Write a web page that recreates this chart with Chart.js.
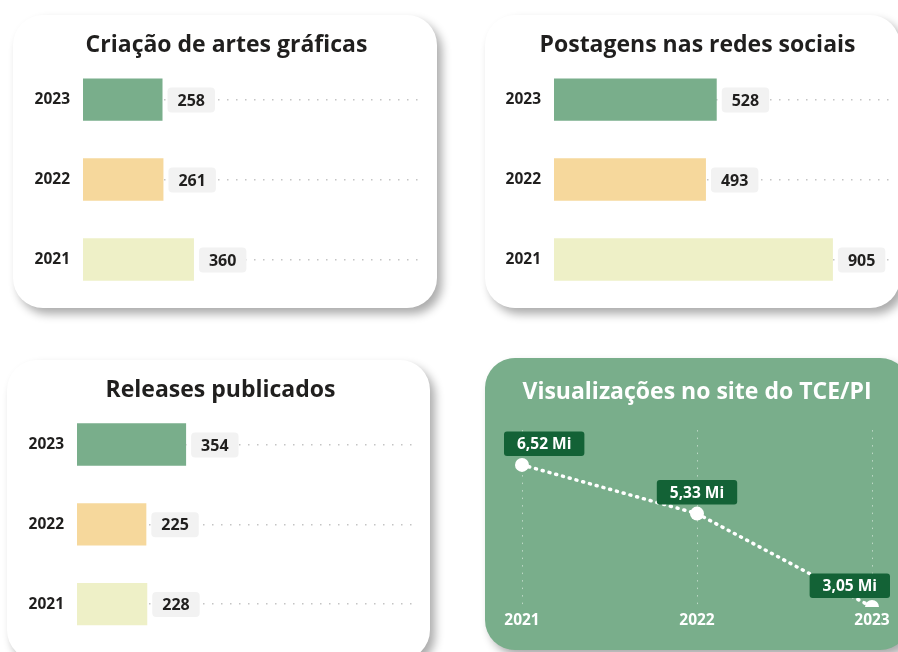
<!DOCTYPE html>
<html>
<head>
<meta charset="utf-8">
<script src="https://cdn.jsdelivr.net/npm/chart.js@4.4.1/dist/chart.umd.min.js"></script>
<style>
	html, body { margin: 0; padding: 0; width: 898px; height: 652px; overflow: hidden; background: #fff; }
	.card { position: absolute; border-radius: 30px; background: #fff; box-shadow: 5px 6px 10px rgba(0,0,0,0.33); overflow: hidden; }
	.card canvas { display: block; }
	#card1 { left: 13px; top: 15px; width: 424px; height: 293px; }
	#card2 { left: 485px; top: 15px; width: 415px; height: 293px; }
	#card3 { left: 7px; top: 360px; width: 423px; height: 300px; }
	#card4 { left: 485px; top: 358px; width: 425px; height: 292px; background: #79ae8b; }
</style>
</head>
<body>
<div class="card" id="card1"><canvas id="artesChart"></canvas></div>
<div class="card" id="card2"><canvas id="postagensChart"></canvas></div>
<div class="card" id="card3"><canvas id="releasesChart"></canvas></div>
<div class="card" id="card4"><canvas id="visualizacoesChart"></canvas></div>
<script>
// dados
var anosBarras = ['2023', '2022', '2021'];
var artesGraficas = [258, 261, 360];
var postagensRedes = [528, 493, 905];
var releasesPublicados = [354, 225, 228];

var anosLinha = ['2021', '2022', '2023'];
var visualizacoesMi = [6.52, 5.33, 3.05];

var FONT = '"Open Sans", "Noto Sans", sans-serif';
var TEXTO = '#201f1e';
var coresBarras = ['#79ae8b', '#f6d89c', '#eef0c7'];

// caixinha cinza com o valor ao lado de cada barra
var rotuloBarra = {
	id: 'rotuloBarra',
	afterDatasetsDraw: function(chart) {
		var ctx = chart.ctx;
		var valores = chart.data.datasets[0].data;
		ctx.save();
		ctx.font = 'bold 16px ' + FONT;
		ctx.textAlign = 'center';
		ctx.textBaseline = 'middle';
		chart.getDatasetMeta(0).data.forEach(function(bar, i) {
			var txt = String(valores[i]);
			var w = ctx.measureText(txt).width + 20;
			var x = bar.x + 5;
			ctx.fillStyle = '#f2f2f2';
			ctx.beginPath();
			ctx.roundRect(x, bar.y - 12, w, 25, 4);
			ctx.fill();
			ctx.fillStyle = TEXTO;
			ctx.fillText(txt, x + w / 2, bar.y + 1.5);
		});
		ctx.restore();
	}
};

function graficoBarras(id, titulo, valores, pad) {
	var context = document.getElementById(id).getContext('2d');
	return new Chart(context, {
		type: 'bar',
		data: {
			labels: anosBarras,
			datasets: [{
				data: valores,
				backgroundColor: coresBarras,
				barPercentage: 0.53,
				categoryPercentage: 1
			}]
		},
		options: {
			indexAxis: 'y',
			responsive: true,
			maintainAspectRatio: false,
			animation: false,
			layout: { padding: pad },
			plugins: {
				legend: { display: false },
				tooltip: { enabled: false },
				title: {
					display: true,
					text: titulo,
					color: TEXTO,
					font: { family: FONT, size: 23, weight: 'bold' },
					padding: { top: 0, bottom: 0 }
				}
			},
			scales: {
				x: { display: false, min: 0, max: 1087 },
				y: {
					grid: { offset: false, drawTicks: false, color: '#c4c4c4', lineWidth: 1.5 },
					border: { display: false, dash: [1.5, 7.5] },
					ticks: { color: TEXTO, padding: 13, font: { family: FONT, size: 15.5, weight: 'bold' } },
					afterFit: function(s) { s.width = 48; s.paddingTop = 0; s.paddingBottom = 0; }
				}
			}
		},
		plugins: [rotuloBarra]
	});
}

graficoBarras('artesChart', 'Criação de artes gráficas', artesGraficas, { left: 22, right: 19, top: 17, bottom: 8.5 });
graficoBarras('postagensChart', 'Postagens nas redes sociais', postagensRedes, { left: 21, right: 11, top: 17, bottom: 8.5 });
graficoBarras('releasesChart', 'Releases publicados', releasesPublicados, { left: 22, right: 18, top: 17, bottom: 16 });

// rótulo verde escuro acima de cada ponto
var rotuloPonto = {
	id: 'rotuloPonto',
	afterDatasetsDraw: function(chart) {
		var ctx = chart.ctx;
		ctx.save();
		ctx.font = 'bold 15.5px ' + FONT;
		ctx.textAlign = 'center';
		ctx.textBaseline = 'middle';
		chart.getDatasetMeta(0).data.forEach(function(pt, i) {
			var txt = visualizacoesMi[i].toFixed(2).replace('.', ',') + ' Mi';
			var w = ctx.measureText(txt).width + 26;
			var h = 24.5;
			var x = pt.x - w / 2;
			x = Math.max(19, Math.min(x, chart.width - 20 - w));
			var y = pt.y - 9 - h;
			ctx.fillStyle = '#136236';
			ctx.beginPath();
			ctx.roundRect(x, y, w, h, 3);
			ctx.fill();
			ctx.fillStyle = '#ffffff';
			ctx.fillText(txt, x + w / 2, y + h / 2 + 1);
		});
		ctx.restore();
	}
};

var ctxLinha = document.getElementById('visualizacoesChart').getContext('2d');
var linha = new Chart(ctxLinha, {
	type: 'line',
	data: {
		labels: anosLinha,
		datasets: [{
			data: visualizacoesMi,
			borderColor: '#ffffff',
			borderWidth: 3.5,
			borderDash: [1, 6],
			borderCapStyle: 'round',
			tension: 0,
			pointRadius: 7,
			pointBorderWidth: 0,
			pointBackgroundColor: '#ffffff',
			clip: { left: false, top: false, right: false, bottom: 0 }
		}]
	},
	options: {
		responsive: true,
		maintainAspectRatio: false,
		animation: false,
		layout: { padding: { left: 37, right: 38, top: 21, bottom: 16.5 } },
		plugins: {
			legend: { display: false },
			tooltip: { enabled: false },
			title: {
				display: true,
				text: 'Visualizações no site do TCE/PI',
				color: '#ffffff',
				font: { family: FONT, size: 23, weight: 'bold' },
				padding: { top: 0, bottom: 23.5 }
			}
		},
		scales: {
			x: {
				grid: { offset: false, drawTicks: false, color: 'rgba(255,255,255,0.5)', lineWidth: 1 },
				border: { display: false, dash: [1.5, 6] },
				ticks: { color: '#ffffff', padding: 4, font: { family: FONT, size: 15.5, weight: 'bold' } },
				afterFit: function(s) { s.paddingLeft = 0; s.paddingRight = 0; }
			},
			y: { display: false, min: 3.05, max: 7.37 }
		}
	},
	plugins: [rotuloPonto]
});
</script>
</body>
</html>
